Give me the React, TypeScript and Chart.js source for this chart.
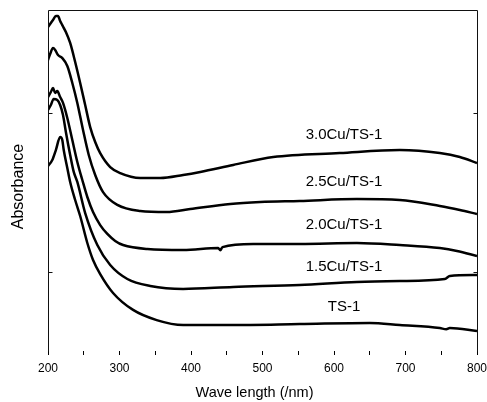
import React, { useEffect, useRef } from 'react';
import { Chart, registerables } from 'chart.js';

Chart.register(...registerables);

// ---- data (wavelength in nm, absorbance in a.u.) ----
const seriesNames = ['3.0Cu/TS-1', '2.5Cu/TS-1', '2.0Cu/TS-1', '1.5Cu/TS-1', 'TS-1'];

const wl30 = [200, 203, 207, 211, 214, 217, 220, 222, 225, 231, 238, 245, 252, 259, 266, 273, 287, 301, 329, 357, 389, 413, 459, 515, 608, 692, 748, 776, 800];
const abs30 = [2.543, 2.562, 2.587, 2.612, 2.612, 2.581, 2.555, 2.537, 2.511, 2.442, 2.322, 2.19, 2.051, 1.912, 1.818, 1.748, 1.66, 1.622, 1.591, 1.591, 1.61, 1.629, 1.673, 1.723, 1.748, 1.767, 1.748, 1.723, 1.685];

const wl25 = [200, 203, 207, 210, 214, 220, 227, 234, 241, 249, 257, 266, 277, 297, 329, 366, 399, 455, 497, 552, 632, 692, 748, 776, 800];
const abs25 = [2.335, 2.373, 2.41, 2.398, 2.366, 2.347, 2.297, 2.19, 2.064, 1.893, 1.736, 1.61, 1.502, 1.421, 1.383, 1.376, 1.395, 1.427, 1.439, 1.446, 1.458, 1.452, 1.414, 1.389, 1.364];

const wl20 = [200, 204, 207, 210, 213, 217, 221, 227, 234, 241, 248, 255, 263, 273, 283, 294, 305, 339, 389, 438, 441, 444, 487, 552, 632, 692, 748, 772, 800];
const abs20 = [2.101, 2.133, 2.158, 2.127, 2.139, 2.101, 2.064, 1.969, 1.83, 1.692, 1.578, 1.471, 1.376, 1.294, 1.238, 1.194, 1.168, 1.143, 1.137, 1.149, 1.136, 1.155, 1.175, 1.175, 1.181, 1.168, 1.149, 1.131, 1.099];

const wl15 = [200, 204, 208, 213, 217, 221, 225, 231, 236, 241, 252, 269, 287, 311, 343, 389, 459, 552, 632, 692, 755, 762, 800];
const abs15 = [2.02, 2.051, 2.089, 2.083, 2.051, 1.988, 1.881, 1.736, 1.629, 1.566, 1.37, 1.168, 1.042, 0.954, 0.91, 0.891, 0.904, 0.916, 0.935, 0.941, 0.954, 0.973, 0.979];

const wlTS = [200, 206, 211, 217, 220, 222, 227, 231, 238, 245, 255, 263, 273, 291, 319, 352, 389, 455, 552, 650, 692, 748, 757, 762, 800];
const absTS = [1.666, 1.704, 1.767, 1.849, 1.83, 1.767, 1.654, 1.566, 1.452, 1.351, 1.181, 1.074, 0.985, 0.866, 0.759, 0.695, 0.664, 0.664, 0.67, 0.677, 0.664, 0.645, 0.637, 0.645, 0.626];

const seriesWl = [wl30, wl25, wl20, wl15, wlTS];
const seriesAbs = [abs30, abs25, abs20, abs15, absTS];

// curve label anchors (data coordinates)
const labelWavelength = 614;
const labelAbs = [1.862, 1.566, 1.294, 1.03, 0.777];

// axes
const xMin = 200;
const xMax = 800;
const xStep = 50;
const xLabelStep = 100;
const yMin = 0.5;
const yMax = 2.65;
const yTickValues = [1, 2];

const FONT = '"Liberation Sans", Arial, Helvetica, sans-serif';

const annotatePlugin = {
  id: 'annotate',
  afterDraw(chart: any) {
    const { ctx, chartArea: a, scales } = chart;
    const x = scales.x;
    const y = scales.y;
    ctx.save();
    // frame
    ctx.strokeStyle = '#111';
    ctx.lineWidth = 1;
    const l = Math.round(a.left) + 0.5;
    const t = Math.round(a.top) + 0.5;
    const r = Math.round(a.right) + 0.5;
    const b = Math.round(a.bottom) + 0.5;
    ctx.beginPath();
    ctx.moveTo(l, b);
    ctx.lineTo(l, t);
    ctx.lineTo(r, t);
    ctx.lineTo(r, b);
    ctx.stroke();
    // inward y ticks on both sides
    ctx.beginPath();
    for (const v of yTickValues) {
      const py = Math.round(y.getPixelForValue(v)) + 0.5;
      ctx.moveTo(l, py);
      ctx.lineTo(l + 4, py);
      ctx.moveTo(r, py);
      ctx.lineTo(r - 4, py);
    }
    ctx.stroke();

    // curve labels
    ctx.fillStyle = '#000';
    ctx.textAlign = 'center';
    ctx.textBaseline = 'middle';
    ctx.font = `15px ${FONT}`;
    seriesNames.forEach((name, i) => {
      ctx.fillText(name, x.getPixelForValue(labelWavelength), y.getPixelForValue(labelAbs[i]));
    });

    // axis titles
    ctx.font = `14.5px ${FONT}`;
    ctx.fillText('Wave length (/nm)', (a.left + a.right) / 2 - 8, a.bottom + 42);
    ctx.translate(19, (a.top + a.bottom) / 2 + 6);
    ctx.rotate(-Math.PI / 2);
    ctx.font = `16px ${FONT}`;
    ctx.fillText('Absorbance', 0, 0);
    ctx.restore();
  },
};

export default function App() {
  const canvasRef = useRef<HTMLCanvasElement | null>(null);

  useEffect(() => {
    if (!canvasRef.current) return;
    const datasets = seriesNames.map((name, i) => ({
      label: name,
      data: seriesWl[i].map((w, j) => ({ x: w, y: seriesAbs[i][j] })),
      borderColor: '#000',
      backgroundColor: '#000',
      borderWidth: 2.5,
      pointRadius: 0,
      fill: false,
      cubicInterpolationMode: 'monotone' as const,
    }));

    const chart = new Chart(canvasRef.current, {
      type: 'line',
      data: { datasets },
      options: {
        responsive: false,
        animation: false,
        layout: { padding: { top: 10, right: 10, left: 0, bottom: 0 } },
        plugins: {
          legend: { display: false },
          tooltip: { enabled: false },
        },
        scales: {
          x: {
            type: 'linear',
            min: xMin,
            max: xMax,
            ticks: {
              stepSize: xStep,
              autoSkip: false,
              maxRotation: 0,
              color: '#000',
              padding: 6,
              font: { family: FONT, size: 12 },
              callback: (v: any) => (Number(v) % xLabelStep === 0 ? String(v) : ''),
            },
            grid: {
              display: true,
              drawOnChartArea: false,
              drawTicks: true,
              tickLength: 4,
              color: '#000',
            },
            border: { display: false },
            afterFit: (s: any) => {
              s.height = 51;
              s.paddingLeft = 0;
              s.paddingRight = 0;
            },
          },
          y: {
            type: 'linear',
            min: yMin,
            max: yMax,
            ticks: { display: false },
            grid: { display: false },
            border: { display: false },
            afterFit: (s: any) => {
              s.width = 48;
              s.paddingTop = 0;
              s.paddingBottom = 0;
            },
          },
        },
      },
      plugins: [annotatePlugin],
    });
    return () => chart.destroy();
  }, []);

  return (
    <div style={{ position: 'absolute', left: 0, top: 0, width: 487, height: 402, background: '#fff' }}>
      <canvas ref={canvasRef} width={487} height={402} style={{ display: 'block' }} />
    </div>
  );
}
